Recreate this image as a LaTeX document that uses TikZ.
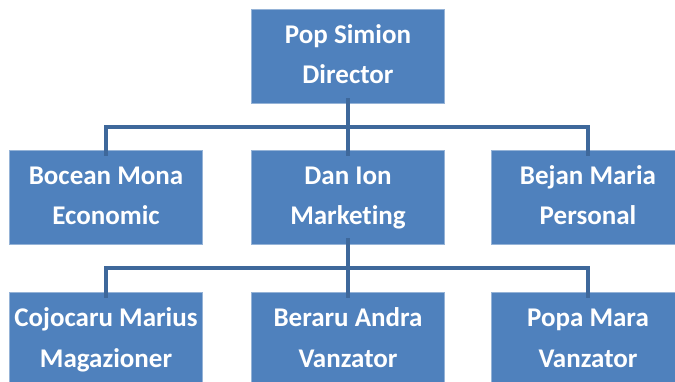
\documentclass[tikz,border=0pt]{standalone}
\usepackage{fontspec}
\setmainfont{Carlito}[Ligatures={NoCommon}]
\definecolor{boxblue}{RGB}{79,129,189}
\definecolor{connblue}{RGB}{62,104,155}
\begin{document}
\begin{tikzpicture}[x=1pt,y=-1pt,
  orgbox/.style={rectangle, fill=boxblue, draw=boxblue!60!white, line width=0.8pt,
    minimum width=193pt, minimum height=94pt, inner sep=0pt,
    text=white, align=center, font=\fontsize{27}{40}\selectfont\bfseries},
  conn/.style={draw=connblue, line width=4.5pt}]
\useasboundingbox (0,0) rectangle (675,382);
\clip (0,0) rectangle (675,382);
\node[orgbox] (pop) at (348,56) {\strut Pop Simion\\\strut Director};
\node[orgbox] (bocean) at (106,197) {\strut Bocean Mona\\\strut Economic};
\node[orgbox] (dan) at (348,197) {\strut Dan Ion\\\strut Marketing};
\node[orgbox] (bejan) at (588,197) {\strut Bejan Maria\\\strut Personal};
\node[orgbox] (cojo) at (106,339) {\strut Cojocaru Marius\\\strut Magazioner};
\node[orgbox] (beraru) at (348,339) {\strut Beraru Andra\\\strut Vanzator};
\node[orgbox] (popa) at (588,339) {\strut Popa Mara\\\strut Vanzator};
\coordinate (bus1) at (348,127);
\coordinate (bus2) at (348,268);
\draw[conn] ([yshift=5pt]pop.south) -- ([yshift=-6pt]dan.north);
\draw[conn] ([yshift=-6pt]bocean.north) |- (bus1) -| ([yshift=-6pt]bejan.north);
\draw[conn] ([yshift=6pt]dan.south) -- ([yshift=-6pt]beraru.north);
\draw[conn] ([yshift=-6pt]cojo.north) |- (bus2) -| ([yshift=-6pt]popa.north);
\end{tikzpicture}
\end{document}
